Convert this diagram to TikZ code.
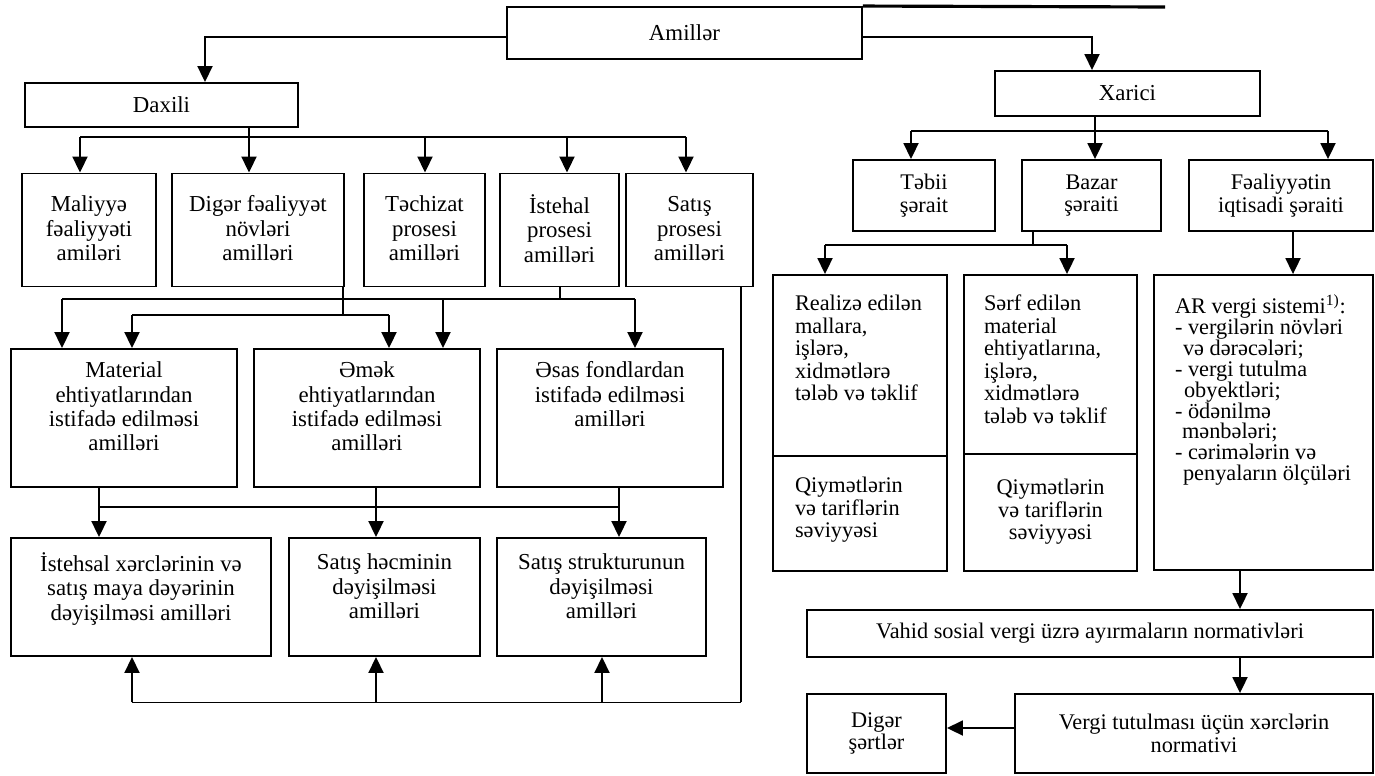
\documentclass[tikz,border=0pt]{standalone}
\usepackage{fontspec}
\setmainfont{Liberation Serif}
\usetikzlibrary{arrows.meta}
\tikzset{
  box/.style={draw, line width=1.1pt, inner sep=0pt, align=center},
  lft/.style={box, font=\fontsize{13}{13.9}\selectfont},
  rgt/.style={box, font=\fontsize{12.7}{12.8}\selectfont},
  arr/.style={line width=1.1pt, -{Triangle[length=0.32cm, width=0.3cm]}},
  ln/.style={line width=1.1pt}
}
% width, height, top pad, alignment, text
\newcommand{\cell}[5]{\parbox[c][#2][t]{#1}{\lineskiplimit=-10pt\relax\vspace*{#3}#4\strut#5}}
\begin{document}
\begin{tikzpicture}[x=0.02cm, y=-0.02cm, font=\fontsize{13}{13.9}\selectfont]
		\useasboundingbox (0,0) rectangle (1375,775);
		\node[box, minimum width=7.1cm, minimum height=1.04cm] (amil) at (684.5,33) {Amillər};
		\coordinate (topend) at (1165,7);
		\draw[line width=1.8pt] (amil.north east) -- (topend);
		\node[box, minimum width=5.46cm, minimum height=0.88cm] (dax) at (161.5,105) {Daxili};
		\node[box, minimum width=5.3cm, minimum height=0.9cm] (xar) at (1127.5,93.5) {Xarici};
		\draw[arr] ([yshift=-0.08cm]amil.west) -| ([xshift=0.87cm]dax.north);
		\draw[arr] ([yshift=-0.08cm]amil.east) -| ([xshift=-0.71cm]xar.north);
		% daxili amillər
		\node[lft] (mal) at (89,230) {\cell{2.68cm}{2.26cm}{0.42cm}{\centering}{Maliyyə\\fəaliyyəti\\amiləri}};
		\node[lft] (dig) at (258,230) {\cell{3.44cm}{2.26cm}{0.42cm}{\centering}{Digər fəaliyyət\\növləri\\amilləri}};
		\node[lft] (tex) at (424.5,230) {\cell{2.42cm}{2.26cm}{0.42cm}{\centering}{Təchizat\\prosesi\\amilləri}};
		\node[lft] (ist) at (559.5,230) {\cell{2.38cm}{2.26cm}{0.42cm}{\centering}{İstehal\\prosesi\\amilləri}};
		\node[lft] (sat) at (689.5,230) {\cell{2.54cm}{2.26cm}{0.42cm}{\centering}{Satış\\prosesi\\amilləri}};
		\draw[ln] ([xshift=1.75cm]dax.south) -- ++(0,9) coordinate (dbus);
		\draw[ln] (dbus -| 80,0) -- (dbus -| 686,0);
		\foreach \n/\x in {mal/80,dig/249,tex/425,ist/567,sat/686}
			\draw[arr] (dbus -| \x,0) -- (\n.north -| \x,0);
		\node[lft] (mat) at (124,418) {\cell{4.52cm}{2.76cm}{0.23cm}{\centering}{Material\\ehtiyatlarından\\istifadə edilməsi\\amilləri}};
		\node[lft] (emk) at (367,418) {\cell{4.52cm}{2.76cm}{0.23cm}{\centering}{Əmək\\ehtiyatlarından\\istifadə edilməsi\\amilləri}};
		\node[lft] (esa) at (610,418) {\cell{4.52cm}{2.76cm}{0.23cm}{\centering}{Əsas fondlardan\\istifadə edilməsi\\amilləri}};
		\draw[ln] (ist.south -| 560,0) -- ++(0,12) coordinate (ibus);
		\draw[ln] (ibus -| 62,0) -- (ibus -| 635,0);
		\foreach \n/\x in {mat/62,emk/443,esa/635}
			\draw[arr] (ibus -| \x,0) -- (\n.north -| \x,0);
		\draw[ln] (dig.south -| 343,0) -- ++(0,28) coordinate (gbus);
		\draw[ln] (gbus -| 132,0) -- (gbus -| 389,0);
		\foreach \n/\x in {mat/132,emk/389}
			\draw[arr] (gbus -| \x,0) -- (\n.north -| \x,0);
		\node[lft] (ist2) at (141,597) {\cell{5.2cm}{2.36cm}{0.29cm}{\centering}{İstehsal xərclərinin və\\satış maya dəyərinin\\dəyişilməsi amilləri}};
		\node[lft] (sh) at (384.5,597) {\cell{3.82cm}{2.36cm}{0.29cm}{\centering}{Satış həcminin\\dəyişilməsi\\amilləri}};
		\node[lft] (ss) at (601.5,597) {\cell{4.18cm}{2.36cm}{0.29cm}{\centering}{Satış strukturunun\\dəyişilməsi\\amilləri}};
		\path (mat.south) ++(0,19) coordinate (mbus);
		\draw[ln] (mbus -| 99,0) -- (mbus -| 619,0);
		\foreach \a/\b/\x in {mat/ist2/99,emk/sh/376,esa/ss/619}
			\draw[arr] (\a.south -| \x,0) -- (\b.north -| \x,0);
		\draw[ln] (sat.south -| 741,0) -- ++(0,415) coordinate (fbus);
		\draw[ln] (fbus) -- (fbus -| 132,0);
		\foreach \n/\x in {ist2/132,sh/376,ss/602}
			\draw[arr] (fbus -| \x,0) -- (\n.south -| \x,0);
		% xarici amillər
		\node[rgt, minimum width=2.84cm, minimum height=1.42cm] (teb) at (924,195.5) {Təbii\\şərait};
		\node[rgt, minimum width=2.78cm, minimum height=1.42cm] (baz) at (1091.5,195.5) {Bazar\\şəraiti};
		\node[rgt, minimum width=3.68cm, minimum height=1.42cm] (fea) at (1281,195.5) {Fəaliyyətin\\iqtisadi şəraiti};
		\draw[ln] ([xshift=-0.65cm]xar.south) -- ++(0,14) coordinate (xbus);
		\draw[ln] (xbus -| 911,0) -- (xbus -| 1328,0);
		\foreach \n/\x in {teb/911,baz/1095,fea/1328}
			\draw[arr] (xbus -| \x,0) -- (\n.north -| \x,0);
		\node[rgt] (realA) at (860,365.5) {\cell{3.48cm}{3.62cm}{0.4cm}{\raggedright\leftskip=0.44cm}{Realizə edilən\\mallara,\\işlərə,\\xidmətlərə\\tələb və təklif}};
		\node[rgt] (realB) at (860,513.5) {\cell{3.48cm}{2.3cm}{0.42cm}{\raggedright\leftskip=0.44cm}{Qiymətlərin\\və tariflərin\\səviyyəsi}};
		\node[rgt] (serA) at (1050.5,364.5) {\cell{3.46cm}{3.58cm}{0.4cm}{\raggedright\leftskip=0.4cm}{Sərf edilən\\material\\ehtiyatlarına,\\işlərə,\\xidmətlərə\\tələb və təklif}};
		\node[rgt] (serB) at (1050.5,512.5) {\cell{3.46cm}{2.34cm}{0.5cm}{\centering}{Qiymətlərin\\və tariflərin\\səviyyəsi}};
		\draw[ln] ([xshift=-1.17cm]baz.south) -- ++(0,13) coordinate (bbus);
		\draw[ln] (bbus -| 825,0) -- (bbus -| 1067,0);
		\foreach \n/\x in {realA/825,serA/1067}
			\draw[arr] (bbus -| \x,0) -- (\n.north -| \x,0);
		\node[rgt, font=\fontsize{12.7}{11.9}\selectfont] (ar) at (1263.5,422.5) {\cell{4.38cm}{5.9cm}{0.4cm}{\raggedright\leftskip=0.42cm}{AR vergi sistemi\textsuperscript{1)}:\\
			- vergilərin növləri\\\hspace*{0.16cm}və dərəcələri;\\
			- vergi tutulma\\\hspace*{0.18cm}obyektləri;\\
			- ödənilmə\\\hspace*{0.14cm}mənbələri;\\
			- cərimələrin və\\\hspace*{0.16cm}penyaların ölçüləri}};
		\draw[arr] (fea.south -| 1293,0) -- (ar.north -| 1293,0);
		\node[rgt, minimum width=11.32cm, minimum height=0.94cm] (vah) at (1090,633.5) {Vahid sosial vergi üzrə ayırmaların normativləri};
		\node[rgt, minimum width=7.16cm, minimum height=1.58cm] (ver) at (1194,733.5) {Vergi tutulması üçün xərclərin\\normativi};
		\node[rgt, minimum width=2.78cm, minimum height=1.58cm] (dig2) at (876.5,733.5) {Digər\\şərtlər};
		\draw[arr] (ar.south -| 1240,0) -- (vah.north -| 1240,0);
		\draw[arr] (vah.south -| 1240,0) -- (ver.north -| 1240,0);
		\draw[arr] (ver.west |- 0,728) -- (dig2.east |- 0,728);
\end{tikzpicture}
\end{document}
